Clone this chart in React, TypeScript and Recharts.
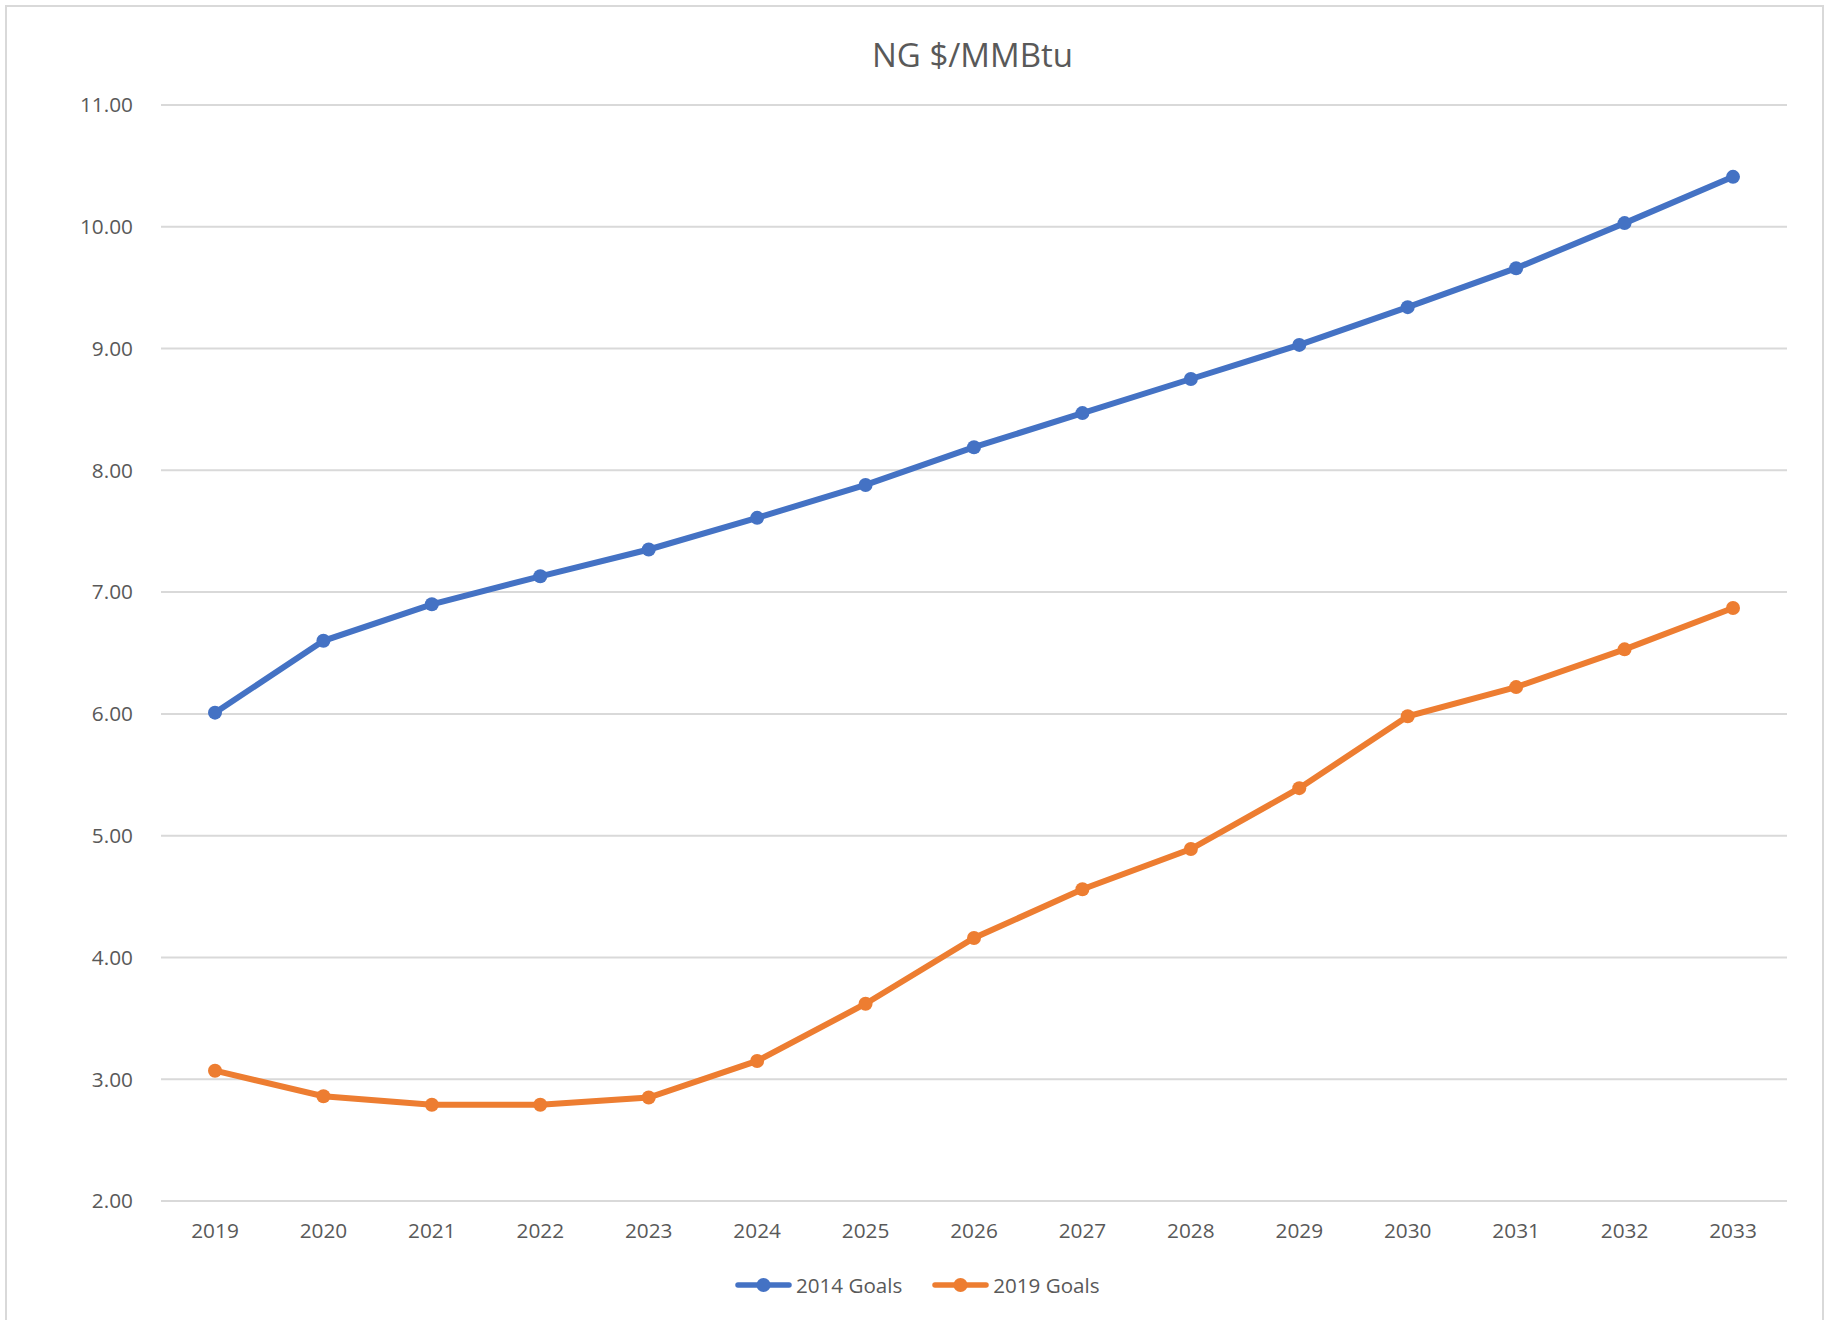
import { LineChart, Line, XAxis, YAxis, CartesianGrid, Legend } from 'recharts'

const years = ['2019', '2020', '2021', '2022', '2023', '2024', '2025', '2026', '2027', '2028', '2029', '2030', '2031', '2032', '2033']
const goals2014 = [6.01, 6.6, 6.9, 7.13, 7.35, 7.61, 7.88, 8.19, 8.47, 8.75, 9.03, 9.34, 9.66, 10.03, 10.41]
const goals2019 = [3.07, 2.86, 2.79, 2.79, 2.85, 3.15, 3.62, 4.16, 4.56, 4.89, 5.39, 5.98, 6.22, 6.53, 6.87]
const yTicks = [2, 3, 4, 5, 6, 7, 8, 9, 10, 11]

const seriesInfo = [
  { key: 'g2014', name: '2014 Goals', color: '#4472C4' },
  { key: 'g2019', name: '2019 Goals', color: '#ED7D31' },
]

const data = years.map((year, i) => ({ year, g2014: goals2014[i], g2019: goals2019[i] }))

const FONT = '"Open Sans", "Noto Sans", sans-serif'
const TEXT = '#595959'

function LegendBox() {
  return (
    <div style={{ height: 40, display: 'flex', alignItems: 'center', paddingLeft: 735, fontFamily: FONT, fontSize: 20.6, color: TEXT }}>
      {seriesInfo.map((s, i) => (
        <div key={s.key} style={{ display: 'flex', alignItems: 'center', marginLeft: i === 0 ? 0 : 30 }}>
          <svg width={57} height={16} style={{ marginRight: 4 }}>
            <line x1={3} y1={8} x2={54} y2={8} stroke={s.color} strokeWidth={5.5} strokeLinecap="round" />
            <circle cx={28.5} cy={8} r={7} fill={s.color} />
          </svg>
          <span>{s.name}</span>
        </div>
      ))}
    </div>
  )
}

export default function App() {
  return (
    <div style={{ position: 'absolute', left: 0, top: 0, width: 1839, height: 1320, overflow: 'hidden', background: '#fff' }}>
      <div style={{ position: 'absolute', left: 5, top: 5, width: 1815, height: 1400, border: '2px solid #d9d9d9' }} />
      <div style={{ position: 'absolute', left: 0, top: 32, width: 1945, textAlign: 'center', fontFamily: FONT, fontSize: 33, color: TEXT }}>
        NG $/MMBtu
      </div>
      <div style={{ position: 'absolute', left: 0, top: 0 }}>
        <LineChart width={1839} height={1320} data={data} margin={{ top: 105, right: 52, left: 0, bottom: 15 }}>
          <CartesianGrid vertical={false} stroke="#d9d9d9" strokeWidth={2} />
          <XAxis
            dataKey="year"
            axisLine={false}
            tickLine={false}
            tickSize={0}
            tickMargin={22}
            height={64}
            padding={{ left: 54, right: 54 }}
            tick={{ fontSize: 20.8, fill: TEXT, fontFamily: FONT }}
            interval={0}
          />
          <YAxis
            domain={[2, 11]}
            ticks={yTicks}
            width={161}
            axisLine={false}
            tickLine={false}
            tickSize={0}
            tickMargin={28}
            tickFormatter={(v: number) => v.toFixed(2)}
            tick={{ fontSize: 20.8, fill: TEXT, fontFamily: FONT }}
          />
          <Legend verticalAlign="bottom" height={40} content={() => <LegendBox />} wrapperStyle={{ left: 0, width: 1839 }} />
          {seriesInfo.map((s) => (
            <Line
              key={s.key}
              type="linear"
              dataKey={s.key}
              name={s.name}
              stroke={s.color}
              strokeWidth={6}
              dot={{ r: 7, fill: s.color, stroke: s.color, strokeWidth: 0 }}
              activeDot={false}
              isAnimationActive={false}
            />
          ))}
        </LineChart>
      </div>
    </div>
  )
}
